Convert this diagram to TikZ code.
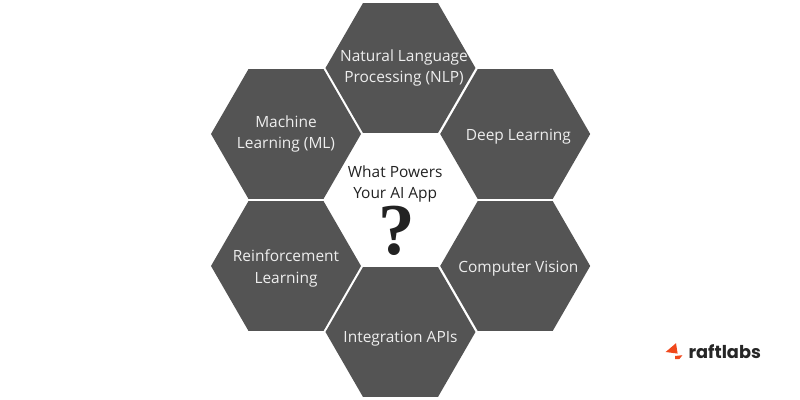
\documentclass[tikz,border=0pt]{standalone}
\usepackage{fontspec}
\setmainfont{Open Sans}
\newfontfamily\logofont{Poppins}
\newfontfamily\markfont{Liberation Serif}
\usetikzlibrary{shapes.geometric}
\definecolor{hexgray}{HTML}{545454}
\definecolor{hextext}{HTML}{EEEEEE}
\definecolor{darktext}{HTML}{222222}
\definecolor{raftorange}{HTML}{F0481C}
\tikzset{
	hexcell/.style={regular polygon, regular polygon sides=6, fill=hexgray, inner sep=0pt, minimum size=1.875cm},
	hexlabel/.style={align=center, text=hextext, font=\fontsize{5.5}{7.5}\selectfont, inner sep=0pt},
	midlabel/.style={align=center, text=darktext, font=\fontsize{5.5}{7.5}\selectfont, inner sep=0pt}
}
\begin{document}
\begin{tikzpicture}
	\useasboundingbox (0,0) rectangle (10,5);
	
	\node[hexcell] (nlp) at (5.006,4.15) {};
	\node[hexcell] (ml) at (3.575,3.325) {};
	\node[hexcell] (dl) at (6.44,3.325) {};
	\node[hexcell] (rl) at (3.575,1.675) {};
	\node[hexcell] (cv) at (6.44,1.675) {};
	\node[hexcell] (api) at (5.006,0.85) {};
	
	\node[hexlabel] (nlptext) at (5.05,4.15) {Natural Language\\Processing (NLP)};
	\node[hexlabel] (mltext) at (3.575,3.325) {Machine\\Learning (ML)};
	\node[hexlabel] (dltext) at (6.48,3.29) {Deep Learning};
	\node[hexlabel] (rltext) at (3.575,1.645) {Reinforcement\\Learning};
	\node[hexlabel] (cvtext) at (6.48,1.64) {Computer Vision};
	\node[hexlabel] (apitext) at (5.006,0.765) {Integration APIs};
	
	\node[midlabel] (title) at (4.94,2.695) {What Powers\\Your AI App};
	\node[text=darktext, inner sep=0pt, font=\markfont\bfseries\fontsize{26}{26}\selectfont] (mark) at (4.96,2.11) {?};
	
	\fill[raftorange] (8.32,0.6) -- (8.45,0.71) -- (8.47,0.58) -- cycle;
	\fill[raftorange] (8.44,0.55) -- (8.53,0.56) -- (8.49,0.51) -- (8.44,0.51) -- cycle;
	\node[anchor=west, inner sep=0pt, text=black!85, font=\logofont\bfseries\fontsize{6.3}{8}\selectfont] (logo) at (8.6,0.61) {raftlabs};
\end{tikzpicture}
\end{document}
